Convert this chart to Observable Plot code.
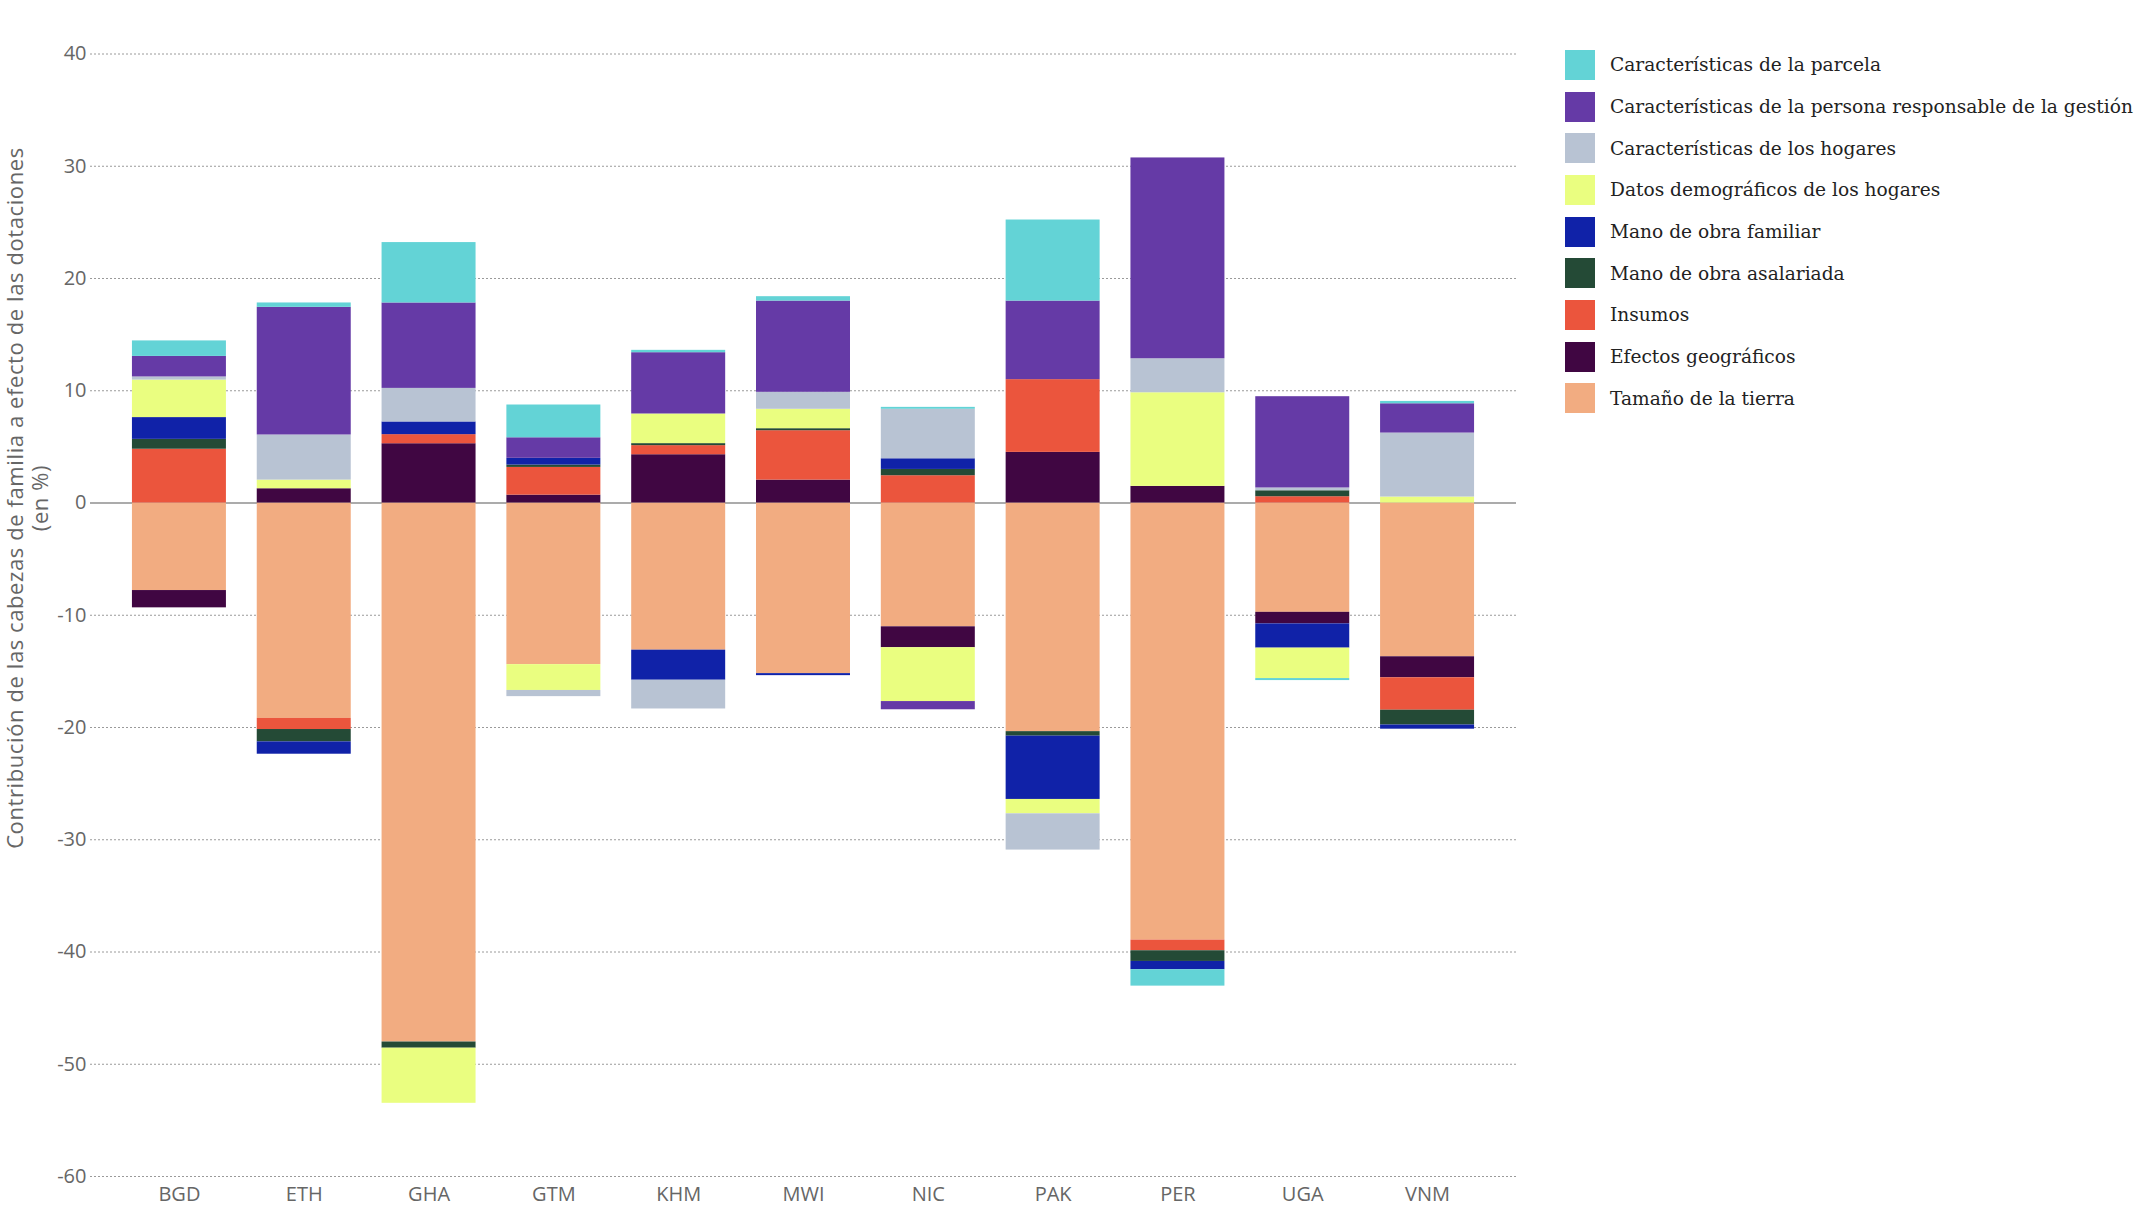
<!DOCTYPE html>
<html><head><meta charset="utf-8">
<script src="https://cdn.jsdelivr.net/npm/d3@7"></script>
<script src="https://cdn.jsdelivr.net/npm/@observablehq/plot@0.6"></script>
<style>
html,body{margin:0;padding:0;background:#fff;}
#wrap{position:relative;width:2137px;height:1206px;overflow:hidden;background:#fff;}
#chart{position:absolute;left:0;top:0;}
#ytitle{position:absolute;left:-423px;top:473px;width:900px;height:50px;line-height:25px;text-align:center;
  transform:rotate(-90deg);transform-origin:50% 50%;font-family:"Open Sans";font-size:22px;color:#666;letter-spacing:0.6px;white-space:nowrap;}
#legend{position:absolute;left:1565px;top:44px;font-family:"DejaVu Serif";font-size:18.6px;color:#222;}
.item{display:flex;align-items:center;height:41.7px;white-space:nowrap;}
.sw{width:30px;height:30px;margin-right:15px;flex:none;}
</style></head>
<body><div id="wrap"><div id="chart"></div>
<div id="ytitle">Contribución de las cabezas de familia a efecto de las dotaciones<br>(en %)</div>
<div id="legend"></div></div>
<script>
const countries = ["BGD","ETH","GHA","GTM","KHM","MWI","NIC","PAK","PER","UGA","VNM"];
// stacking order from zero outward
const factors = [
  "Tamaño de la tierra",
  "Efectos geográficos",
  "Insumos",
  "Mano de obra asalariada",
  "Mano de obra familiar",
  "Datos demográficos de los hogares",
  "Características de los hogares",
  "Características de la persona responsable de la gestión",
  "Características de la parcela"
];
const factorColors = ["#F2AC81","#400642","#EB553D","#244A36","#1022A8","#EAFE80","#B8C3D3","#653AA6","#63D3D6"];
const yTicks = [-60,-50,-40,-30,-20,-10,0,10,20,30,40];

const tierra     = [-7.8,-19.19,-48.02,-14.4,-13.11,-15.2,-11.03,-20.37,-38.94,-9.74,-13.70];
const geo        = [-1.54, 1.27, 5.28, 0.70, 4.30, 2.04,-1.86, 4.51, 1.48,-1.03,-1.87];
const insumos    = [ 4.79,-0.99, 0.81, 2.47, 0.81, 4.40, 2.43, 6.48,-0.95, 0.56,-2.89];
const asalariada = [ 0.88,-1.10,-0.55, 0.21, 0.18, 0.18, 0.56,-0.40,-0.95, 0.53,-1.32];
const familiar   = [ 1.94,-1.10, 1.13, 0.60,-2.68,-0.18, 0.95,-5.64,-0.74,-2.16,-0.37];
const demog      = [ 3.34, 0.77,-4.91,-2.30, 2.64, 1.73,-4.80,-1.28, 8.34,-2.71, 0.53];
const hogares    = [ 0.28, 4.02, 2.99,-0.55,-2.56, 1.51, 4.41,-3.23, 3.03, 0.25, 5.70];
const persona    = [ 1.83,11.37, 7.61, 1.83, 5.46, 8.13,-0.73, 7.00,17.89, 8.13, 2.61];
const parcela    = [ 1.38, 0.39, 5.38, 2.92, 0.21, 0.39, 0.17, 7.22,-1.46,-0.18, 0.21];

const seriesValues = [tierra, geo, insumos, asalariada, familiar, demog, hogares, persona, parcela];
const data = [];
factors.forEach((f, i) => {
  countries.forEach((c, j) => {
    data.push({country: c, factor: f, value: seriesValues[i][j]});
  });
});

const chart = Plot.plot({
  width: 1530,
  height: 1206,
  marginLeft: 90,
  marginRight: 14,
  marginTop: 53.5,
  marginBottom: 30,
  style: {fontFamily: "'Open Sans'", fontSize: "20px", color: "#666", background: "#fff"},
  x: {domain: countries, paddingInner: 0.247, paddingOuter: 0.336, round: false, label: null, tickSize: 0, tickPadding: 10},
  y: {domain: [-60, 40], ticks: yTicks, label: null, tickSize: 0, tickPadding: 4, tickFormat: d => String(d)},
  color: {domain: factors, range: factorColors},
  marks: [
    Plot.gridY(yTicks.filter(d => d !== 0), {stroke: "#9a9a9a", strokeOpacity: 1, strokeWidth: 1, strokeDasharray: "2,2"}),
    Plot.ruleY([0], {stroke: "#ababab", strokeWidth: 2}),
    Plot.barY(data, Plot.stackY({x: "country", y: "value", z: "factor", fill: "factor", order: factors})),
    Plot.axisX({tickSize: 0, tickPadding: 10, fill: "#666", fontSize: 20}),
    Plot.axisY({ticks: yTicks, tickSize: 0, tickPadding: 4, tickFormat: d => String(d), fill: "#666", fontSize: 20})
  ]
});
document.getElementById("chart").appendChild(chart);

const legend = document.getElementById("legend");
const legendOrder = factors.slice().reverse();
legendOrder.forEach(f => {
  const item = document.createElement("div");
  item.className = "item";
  const sw = document.createElement("div");
  sw.className = "sw";
  sw.style.background = factorColors[factors.indexOf(f)];
  const t = document.createElement("span");
  t.textContent = f;
  item.appendChild(sw); item.appendChild(t);
  legend.appendChild(item);
});
</script>
</body></html>
